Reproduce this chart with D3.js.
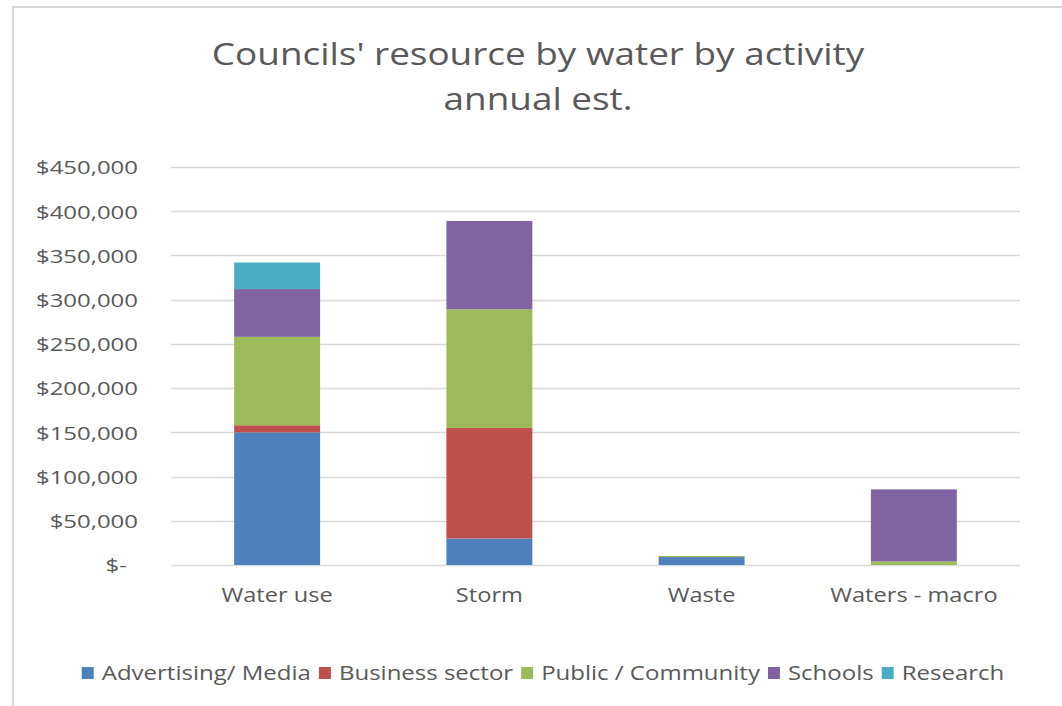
<!DOCTYPE html>
<html>
<head>
<meta charset="utf-8">
<script src="https://cdn.jsdelivr.net/npm/d3@7"></script>
<style>
  html, body { margin: 0; padding: 0; background: #fff; }
  svg { display: block; }
  text { font-family: "Open Sans", Lato, sans-serif; fill: #595959; }
</style>
</head>
<body>
<svg id="chart" width="1062" height="706"></svg>
<script>
const titleLines = ["Councils' resource by water by activity", "annual est."];
const categories = ["Water use", "Storm", "Waste", "Waters - macro"];
const seriesNames = ["Advertising/ Media", "Business sector", "Public / Community", "Schools", "Research"];
const seriesColors = ["#4F81BD", "#C0504D", "#9BBB59", "#8064A2", "#4BACC6"];
const advertising = [150000, 30000, 9000, 0];
const business = [8000, 125000, 0, 0];
const publicCommunity = [100000, 134000, 1200, 4000];
const schools = [54000, 100000, 0, 81500];
const research = [30000, 0, 0, 0];
const yTicks = [0, 50000, 100000, 150000, 200000, 250000, 300000, 350000, 400000, 450000];

const seriesValues = [advertising, business, publicCommunity, schools, research];
const rows = categories.map((c, i) => {
  const r = { category: c };
  seriesNames.forEach((s, j) => { r[s] = seriesValues[j][i]; });
  return r;
});

// horizontally widen text (reference glyphs are wider than available fonts)
function widen(sel, f) {
  sel.each(function () {
    const w = this.getComputedTextLength();
    d3.select(this).attr("textLength", w * f).attr("lengthAdjust", "spacingAndGlyphs");
  });
}

const svg = d3.select("#chart");
const W = 1062, H = 706;
const margin = { left: 171, right: 42, top: 167, bottom: 141 };
const plotW = W - margin.left - margin.right;
const plotH = H - margin.top - margin.bottom;

// chart border
svg.append("rect").attr("x", 13).attr("y", 7).attr("width", W + 10).attr("height", H + 10)
  .attr("fill", "none").attr("stroke", "#d9d9d9").attr("stroke-width", 2);

const x = d3.scaleBand().domain(categories).range([margin.left, margin.left + plotW]).padding(0);
const barW = x.bandwidth() * 0.405;
const y = d3.scaleLinear().domain([0, 450000]).range([margin.top + plotH, margin.top]);

// gridlines
svg.append("g").selectAll("line").data(yTicks).join("line")
  .attr("x1", margin.left).attr("x2", margin.left + plotW)
  .attr("y1", d => Math.round(y(d)) + 0.5).attr("y2", d => Math.round(y(d)) + 0.5)
  .attr("stroke", "#d9d9d9").attr("stroke-width", 1.3);

const fmt = d => d === 0 ? "$-" : "$" + d3.format(",")(d);
const yAxis = d3.axisLeft(y).tickValues(yTicks).tickFormat(fmt).tickSize(0).tickPadding(33);
const gy = svg.append("g").attr("transform", `translate(${margin.left},0)`).call(yAxis);
gy.select(".domain").remove();
gy.selectAll("text").style("font-size", "19px").attr("fill", "#595959").attr("dy", "0.36em");
gy.selectAll(".tick").filter(d => d === 0).select("text").attr("dx", "-11px");
widen(gy.selectAll("text"), 1.26);

// stacked bars
const stack = d3.stack().keys(seriesNames);
const stacked = stack(rows);
svg.append("g").selectAll("g").data(stacked).join("g")
  .attr("fill", (d, i) => seriesColors[i])
  .selectAll("rect").data(d => d).join("rect")
  .attr("x", d => x(d.data.category) + (x.bandwidth() - barW) / 2)
  .attr("width", barW)
  .attr("y", d => y(d[1]))
  .attr("height", d => Math.max(0, y(d[0]) - y(d[1])));

// x axis labels
const xAxis = d3.axisBottom(x).tickSize(0).tickPadding(23);
const gx = svg.append("g").attr("transform", `translate(0,${margin.top + plotH})`).call(xAxis);
gx.select(".domain").remove();
gx.selectAll("text").style("font-size", "20px").attr("fill", "#595959");
widen(gx.selectAll("text"), 1.18);

// title
const title = svg.append("g").selectAll("text").data(titleLines).join("text")
  .attr("x", 538).attr("y", (d, i) => 65 + i * 45)
  .attr("text-anchor", "middle")
  .style("font-size", "31px")
  .attr("fill", "#595959")
  .text(d => d);
widen(title, 1.19);

// legend
const legend = svg.append("g");
const items = legend.selectAll("g").data(seriesNames).join("g");
items.append("rect").attr("width", 12).attr("height", 12).attr("y", -13)
  .attr("fill", (d, i) => seriesColors[i]);
items.append("text").attr("x", 20).attr("y", 0).style("font-size", "20px").attr("fill", "#595959")
  .text(d => d);
widen(items.selectAll("text"), 1.2);
let cx = 0;
const offs = [];
items.each(function () {
  offs.push(cx);
  const tw = +d3.select(this).select("text").attr("textLength");
  cx += 20 + tw + 8;
});
const totalW = cx - 8;
items.attr("transform", (d, i) => `translate(${offs[i]},0)`);
legend.attr("transform", `translate(${543 - totalW / 2},680)`);
</script>
</body>
</html>
